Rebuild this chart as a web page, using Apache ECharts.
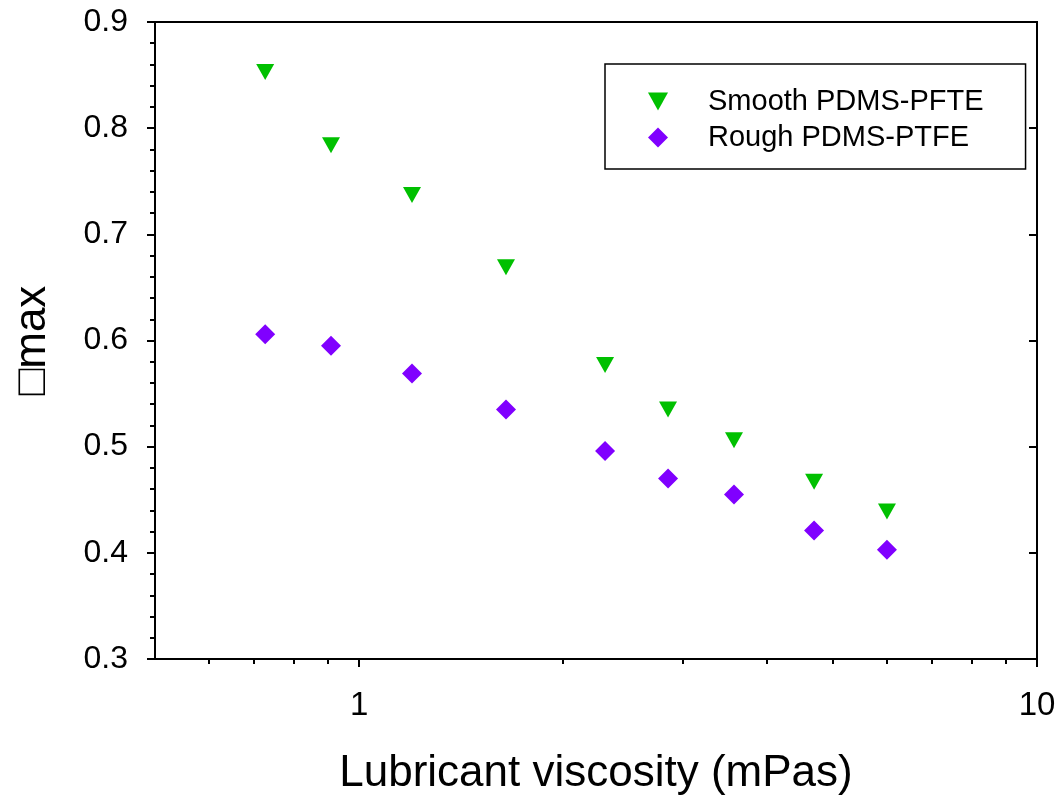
<!DOCTYPE html>
<html>
<head>
<meta charset="utf-8">
<script src="https://cdn.jsdelivr.net/npm/echarts@6/dist/echarts.min.js"></script>
<style>
html,body{margin:0;padding:0;background:#fff;}
#chart{width:1059px;height:802px;}
</style>
</head>
<body>
<div id="chart"></div>
<script>
// Data
const viscosity = [0.727, 0.909, 1.197, 1.647, 2.306, 2.856, 3.573, 4.69, 6.007];
const smoothPDMS = [0.853, 0.784, 0.737, 0.669, 0.577, 0.535, 0.506, 0.467, 0.439];
const roughPDMS = [0.606, 0.595, 0.569, 0.535, 0.496, 0.470, 0.455, 0.421, 0.403];
const seriesNames = ['Smooth PDMS-PFTE', 'Rough PDMS-PTFE'];
const xMajorTicks = [1, 10];
const xMinorTicks = [0.6, 0.7, 0.8, 0.9, 2, 3, 4, 5, 6, 7, 8, 9];
const xTitle = 'Lubricant viscosity (mPas)';
const yTitle = '\u25A1max';

const font = 'Liberation Sans, Arial, sans-serif';
const pairs = (xs, ys) => xs.map((x, i) => [x, ys[i]]);
const downTriangle = 'path://M0,0L18,0L9,16Z';

const chart = echarts.init(document.getElementById('chart'), null, {renderer: 'canvas'});
chart.setOption({
  animation: false,
  backgroundColor: '#fff',
  grid: {left: 155, right: 22, top: 22, bottom: 143, show: true, borderColor: '#000', borderWidth: 2, backgroundColor: 'transparent'},
  legend: {
    orient: 'vertical',
    left: 605, top: 64,
    padding: [23, 42, 17, 43],
    itemWidth: 20, itemHeight: 20, itemGap: 7,
    borderColor: '#000', borderWidth: 1.5,
    textStyle: {fontFamily: font, fontSize: 29, color: '#000', padding: [0, 0, 0, 35]},
    data: [
      {name: seriesNames[0], icon: downTriangle},
      {name: seriesNames[1], icon: 'diamond'}
    ]
  },
  xAxis: [{
    type: 'log', logBase: 10, min: 0.5, max: 10,
    position: 'bottom',
    name: xTitle, nameLocation: 'middle', nameGap: 93,
    nameTextStyle: {fontFamily: font, fontSize: 44, color: '#000'},
    axisLine: {show: true, lineStyle: {color: '#000', width: 2}},
    axisTick: {show: true, inside: false, length: 8, lineStyle: {color: '#000', width: 2}, customValues: xMajorTicks},
    axisLabel: {fontFamily: font, fontSize: 33, color: '#000', margin: 30, customValues: xMajorTicks,
      formatter: v => (xMajorTicks.indexOf(+v) >= 0 ? String(+v) : '')},
    splitLine: {show: false}
  }, {
    type: 'log', logBase: 10, min: 0.5, max: 10,
    position: 'bottom',
    axisLine: {show: false},
    axisTick: {show: true, inside: false, length: 5, lineStyle: {color: '#000', width: 2}, customValues: xMinorTicks},
    axisLabel: {show: false},
    splitLine: {show: false}
  }],
  yAxis: [{
    type: 'value', min: 0.3, max: 0.9, interval: 0.1,
    position: 'left',
    name: yTitle, nameLocation: 'middle', nameGap: 100, nameRotate: 90,
    nameTextStyle: {fontFamily: font, fontSize: 44, color: '#000'},
    axisLine: {show: true, lineStyle: {color: '#000', width: 2}},
    axisTick: {show: true, inside: false, length: 8, lineStyle: {color: '#000', width: 2}},
    minorTick: {show: true, splitNumber: 5, length: 5, lineStyle: {color: '#000', width: 2}},
    axisLabel: {fontFamily: font, fontSize: 32, color: '#000', margin: 27, formatter: v => v.toFixed(1)},
    splitLine: {show: false}
  }, {
    type: 'value', min: 0.3, max: 0.9, interval: 0.1,
    position: 'right',
    axisLine: {show: true, lineStyle: {color: '#000', width: 2}},
    axisTick: {show: true, inside: true, length: 8, lineStyle: {color: '#000', width: 2}},
    axisLabel: {show: false},
    splitLine: {show: false}
  }],
  series: [{
    name: seriesNames[0], type: 'scatter',
    data: pairs(viscosity, smoothPDMS),
    symbol: 'triangle', symbolRotate: 180, symbolSize: [18, 16],
    itemStyle: {color: '#00C000', opacity: 1}
  }, {
    name: seriesNames[1], type: 'scatter',
    data: pairs(viscosity, roughPDMS),
    symbol: 'diamond', symbolSize: [20, 20],
    itemStyle: {color: '#8000FF', opacity: 1}
  }]
});
</script>
</body>
</html>
